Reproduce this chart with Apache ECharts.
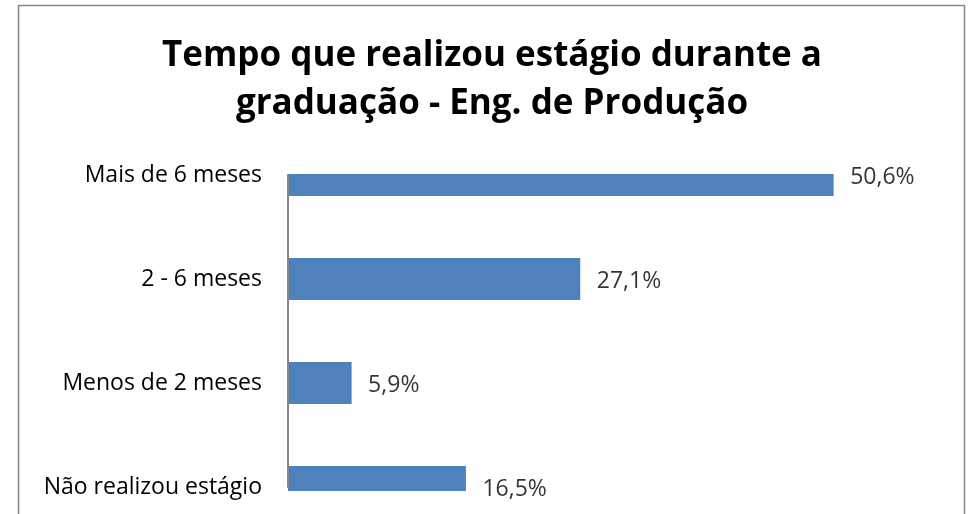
<!DOCTYPE html>
<html>
<head>
<meta charset="utf-8">
<script src="https://cdn.jsdelivr.net/npm/echarts@6/dist/echarts.min.js"></script>
<style>
  html, body { margin: 0; padding: 0; background: #fff; }
  #chart { width: 968px; height: 514px; }
</style>
</head>
<body>
<div id="chart"></div>
<script>
  const titleText = 'Tempo que realizou estágio durante a\ngraduação - Eng. de Produção';
  const categories = ['Mais de 6 meses', '2 - 6 meses', 'Menos de 2 meses', 'Não realizou estágio'];
  const values = [50.6, 27.1, 5.9, 16.5];

  const fmt = v => v.toFixed(1).replace('.', ',') + '%';
  const BAR_H = 42;

  // bars drawn as custom series so they get clipped at the plot edges
  function renderBar(params, api) {
    const start = api.coord([0, api.value(1)]);
    const end = api.coord([api.value(0), api.value(1)]);
    const cs = params.coordSys;
    const rect = echarts.graphic.clipRectByRect({
      x: start[0],
      y: start[1] - BAR_H / 2,
      width: end[0] - start[0],
      height: BAR_H
    }, { x: cs.x, y: cs.y - 1, width: cs.width, height: cs.height + 5 });
    return rect && {
      type: 'rect',
      shape: rect,
      style: { fill: '#4F81BD' }
    };
  }

  const chart = echarts.init(document.getElementById('chart'));
  chart.setOption({
    animation: false,
    backgroundColor: '#fff',
    title: {
      text: titleText,
      left: 492,
      top: 32,
      padding: 0,
      textAlign: 'center',
      textStyle: {
        fontFamily: "'Open Sans', sans-serif",
        fontWeight: 'bold',
        fontSize: 35,
        lineHeight: 48,
        color: '#000'
      }
    },
    graphic: [{
      type: 'rect',
      shape: { x: 18.5, y: 5.5, width: 946, height: 600 },
      style: { fill: 'none', stroke: '#878787', lineWidth: 1.5 },
      silent: true
    }],
    grid: { left: 288, top: 175, width: 647, bottom: 27 },
    xAxis: {
      type: 'value',
      min: 0,
      max: 60,
      show: false
    },
    yAxis: {
      type: 'category',
      data: categories,
      inverse: true,
      boundaryGap: false,
      axisLine: { show: true, lineStyle: { color: '#868686', width: 2 } },
      axisTick: { show: false },
      splitLine: { show: false },
      axisLabel: {
        margin: 26,
        fontFamily: "'Open Sans', sans-serif",
        fontSize: 23,
        color: '#000'
      },
      z: 5
    },
    series: [{
      type: 'custom',
      renderItem: renderBar,
      data: values.map((v, i) => [v, i]),
      encode: { x: 0, y: 1 },
      z: 1
    }, {
      type: 'scatter',
      data: values.map((v, i) => [v, i]),
      symbolSize: 1,
      itemStyle: { color: 'rgba(0,0,0,0)' },
      clip: false,
      label: {
        show: true,
        position: 'right',
        distance: 16,
        offset: [0, 2],
        formatter: p => fmt(p.value[0]),
        fontFamily: "'Open Sans', sans-serif",
        fontSize: 23,
        color: '#000'
      },
      z: 3
    }]
  });
</script>
</body>
</html>
